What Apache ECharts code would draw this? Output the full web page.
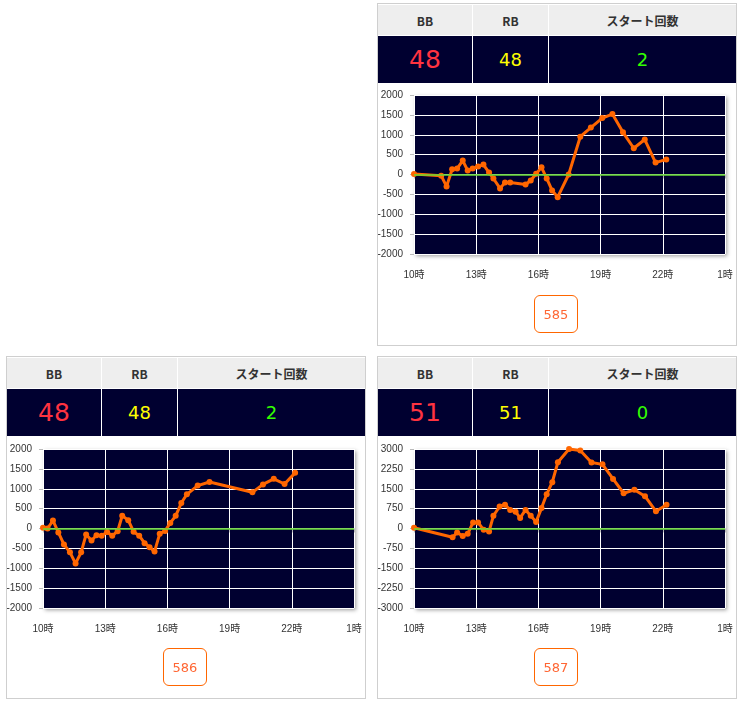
<!DOCTYPE html>
<html><head><meta charset="utf-8">
<script src="https://cdn.jsdelivr.net/npm/echarts@6/dist/echarts.min.js"></script>
<style>
html,body{margin:0;padding:0;background:#fff;}
body{width:740px;height:706px;position:relative;overflow:hidden;font-family:"DejaVu Sans","Noto Sans CJK JP",sans-serif;}
.panel{position:absolute;width:360px;height:343px;box-sizing:border-box;border:1px solid #cfcfcf;background:#fff;}
.row{position:absolute;left:0;width:358px;}
.hrow{top:1px;height:30px;}
.drow{top:32px;height:47px;}
.cell{position:absolute;top:0;height:100%;display:flex;align-items:center;justify-content:center;}
.c1{left:0;width:94px;} .c2{left:95px;width:75px;} .c3{left:171px;width:187px;}
.hrow .cell{background:#eeeeee;color:#333;font-weight:bold;font-size:12px;font-family:"Noto Sans CJK JP","DejaVu Sans",sans-serif;}
.drow .cell{background:#000030;}
.bb{color:#ff3340;font-size:25px;}
.rb{color:#ffff00;font-size:18px;}
.st{color:#33ff00;font-size:18px;}
.chart{position:absolute;left:0;top:84px;width:358px;height:210px;}
.btn{position:absolute;left:156px;top:291px;width:44px;height:38px;box-sizing:border-box;border:1px solid #ff6600;border-radius:6px;color:#ff6633;font-size:13px;display:flex;align-items:center;justify-content:center;}
</style>
</head><body>
<div id="root"></div>
<script>
// ---- data ----
const headers = ["BB", "RB", "スタート回数"];
const machineNos = ["585", "586", "587"];
const bbCounts = [48, 48, 51];
const rbCounts = [48, 48, 51];
const startCounts = [2, 2, 0];
const xTickHours = [10, 13, 16, 19, 22, 1];

const times585 = [10.0, 11.31, 11.57, 11.84, 12.08, 12.35, 12.59, 12.83, 13.09, 13.35, 13.62, 13.83, 14.15, 14.39, 14.64, 15.38, 15.63, 15.89, 16.15, 16.40, 16.66, 16.93, 17.46, 18.02, 18.53, 19.08, 19.57, 20.08, 20.60, 21.13, 21.65, 22.17];
const values585 = [10, -30, -300, 130, 150, 350, 100, 150, 200, 250, 50, -100, -350, -200, -200, -250, -150, 20, 180, -100, -400, -570, 0, 950, 1180, 1420, 1520, 1060, 660, 880, 300, 380];

const times586 = [10.0, 10.22, 10.48, 10.74, 11.01, 11.30, 11.57, 11.84, 12.08, 12.34, 12.58, 12.83, 13.09, 13.34, 13.60, 13.82, 14.11, 14.37, 14.64, 14.90, 15.14, 15.38, 15.63, 15.89, 16.14, 16.40, 16.67, 16.94, 17.46, 18.03, 20.10, 20.61, 21.13, 21.65, 22.16];
const values586 = [20, 0, 200, -100, -400, -600, -880, -600, -150, -300, -170, -180, -90, -180, -70, 320, 210, -80, -180, -370, -470, -580, -130, -60, 140, 320, 640, 860, 1080, 1170, 910, 1110, 1250, 1120, 1400];

const times587 = [10.0, 11.86, 12.08, 12.35, 12.59, 12.85, 13.09, 13.36, 13.62, 13.83, 14.13, 14.39, 14.64, 14.90, 15.12, 15.38, 15.63, 15.89, 16.15, 16.40, 16.67, 16.94, 17.48, 18.02, 18.56, 19.09, 19.60, 20.11, 20.63, 21.14, 21.67, 22.18];
const values587 = [30, -330, -150, -280, -200, 230, 230, -50, -110, 480, 830, 900, 700, 630, 400, 700, 480, 250, 770, 1290, 1750, 2500, 3000, 2940, 2490, 2420, 1870, 1330, 1460, 1220, 650, 900];

const yMin = [-2000, -2000, -3000];
const yMax = [2000, 2000, 3000];
const yStep = [500, 500, 750];
// ---- layout ----
const panelPos = [[377, 3], [6, 356], [377, 356]];
const allTimes = [times585, times586, times587];
const allValues = [values585, values586, values587];
const gridTop = [7, 8, 8];

const root = document.getElementById('root');
for (let i = 0; i < 3; i++) {
  const p = document.createElement('div');
  p.className = 'panel';
  p.style.left = panelPos[i][0] + 'px';
  p.style.top = panelPos[i][1] + 'px';
  p.innerHTML =
    '<div class="row hrow"><div class="cell c1">' + headers[0] + '</div><div class="cell c2">' + headers[1] + '</div><div class="cell c3">' + headers[2] + '</div></div>' +
    '<div class="row drow"><div class="cell c1"><span class="bb">' + bbCounts[i] + '</span></div><div class="cell c2"><span class="rb">' + rbCounts[i] + '</span></div><div class="cell c3"><span class="st">' + startCounts[i] + '</span></div></div>' +
    '<div class="chart" id="chart' + i + '"></div>' +
    '<div class="btn">' + machineNos[i] + '</div>';
  root.appendChild(p);

  const chart = echarts.init(document.getElementById('chart' + i), null, {renderer: 'canvas'});
  const data = allTimes[i].map((t, k) => [t - xTickHours[0], allValues[i][k]]);
  chart.setOption({
    animation: false,
    grid: {
      left: 36, top: gridTop[i], width: 311, height: 159,
      outerBoundsMode: 'none', containLabel: false,
      show: true, backgroundColor: '#000030', borderWidth: 0,
      shadowColor: 'rgba(0,0,0,0.4)', shadowBlur: 4, shadowOffsetX: 2, shadowOffsetY: 2
    },
    xAxis: {
      type: 'value', min: 0, max: 15, interval: 3,
      axisLine: {show: true, lineStyle: {color: '#cccccc'}},
      axisTick: {show: true, length: 4, lineStyle: {color: '#bbbbbb'}},
      splitLine: {show: true, lineStyle: {color: '#ffffff', width: 1}},
      axisLabel: {
        color: '#333', fontSize: 10, margin: 16,
        fontFamily: '"Liberation Sans","Noto Sans CJK JP",sans-serif',
        formatter: v => ((xTickHours[0] + v) % 24) + '時'
      }
    },
    yAxis: {
      type: 'value', min: yMin[i], max: yMax[i], interval: yStep[i],
      axisLine: {show: false},
      axisTick: {show: true, length: 4, lineStyle: {color: '#bbbbbb'}},
      splitLine: {show: true, lineStyle: {color: '#ffffff', width: 1}},
      axisLabel: {
        color: '#333', fontSize: 10, margin: 11,
        fontFamily: '"Liberation Sans",sans-serif',
        formatter: v => String(v)
      }
    },
    series: [{
      type: 'line', data: data,
      lineStyle: {color: '#ff6600', width: 3},
      itemStyle: {color: '#ff6600'},
      symbol: 'circle', symbolSize: 6, showSymbol: true,
      markLine: {
        silent: true, symbol: 'none', label: {show: false},
        lineStyle: {color: '#66dd33', width: 1.5, type: 'solid'},
        data: [{yAxis: 0}]
      },
      z: 3
    }]
  });
}
</script>
</body></html>
